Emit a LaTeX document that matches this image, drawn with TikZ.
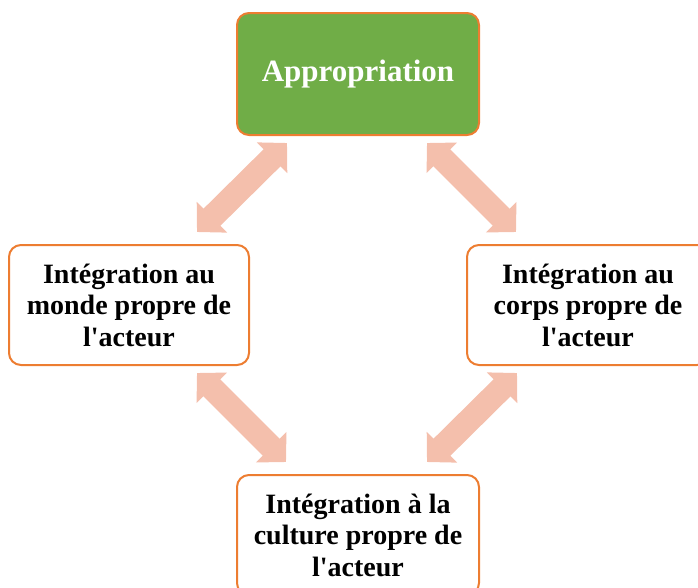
\documentclass[tikz,border=0pt]{standalone}
\usepackage{fontspec}
\setmainfont{Liberation Serif}
\usetikzlibrary{arrows.meta}
\definecolor{boxorange}{HTML}{ED7D31}
\definecolor{boxgreen}{HTML}{70AD47}
\definecolor{arrowpink}{HTML}{F4BFAC}
\newcommand\straightquote{\XeTeXglyph\XeTeXcharglyph"0027\relax}
\begin{document}
\begin{tikzpicture}[x=1pt,y=-1pt,
  box/.style={draw=boxorange, line width=2pt, rounded corners=12pt, fill=white,
    minimum width=240pt, minimum height=120pt, inner sep=0pt, align=center,
    font=\fontsize{28}{31.5}\selectfont\bfseries},
  topbox/.style={box, fill=boxgreen, text=white, minimum width=242pt, minimum height=122pt,
    font=\fontsize{31}{35}\selectfont\bfseries},
  fat/.style={line width=24pt, draw=arrowpink,
    {Triangle[length=21pt,width=42pt]}-{Triangle[length=21pt,width=42pt]}}]
\useasboundingbox (0,0) rectangle (698,587);
\clip (0,0) rectangle (698,587);
\node[topbox] (top) at (358,74) {\raisebox{-2pt}{Appropriation}};
\node[box] (left) at (129,305) {Intégration au\\monde propre de\\l\straightquote acteur};
\node[box, minimum width=242pt] (right) at (588,305) {Intégration au\\corps propre de\\l\straightquote acteur};
\node[box, minimum width=242pt] (bottom) at (358,535) {Intégration à la\\culture propre de\\l\straightquote acteur};
\coordinate (tl1) at (287,143);
\coordinate (tl2) at (197,232);
\coordinate (tr1) at (427,143);
\coordinate (tr2) at (516,232);
\coordinate (bl1) at (197,373);
\coordinate (bl2) at (286,462);
\coordinate (br1) at (517,373);
\coordinate (br2) at (427,462);
\draw[fat] (tl1) -- (tl2);
\draw[fat] (tr1) -- (tr2);
\draw[fat] (bl1) -- (bl2);
\draw[fat] (br1) -- (br2);
\end{tikzpicture}
\end{document}
